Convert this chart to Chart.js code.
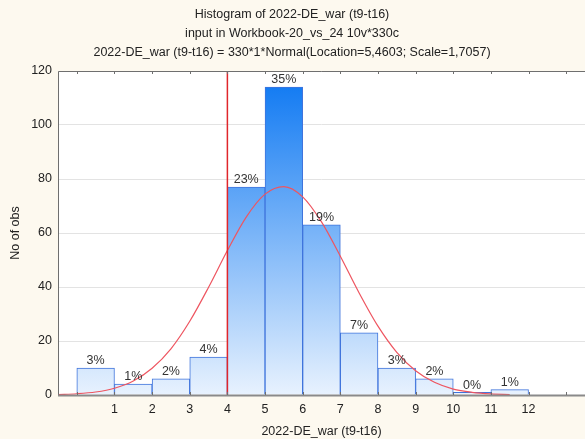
<!DOCTYPE html>
<html>
<head>
<meta charset="utf-8">
<script src="https://cdn.jsdelivr.net/npm/chart.js@4.4.1/dist/chart.umd.min.js"></script>
<style>
  html, body { margin: 0; padding: 0; background: #fdf9ef; }
  #wrap { width: 585px; height: 439px; }
</style>
</head>
<body>
<div id="wrap"><canvas id="hist" width="585" height="439"></canvas></div>
<script>
// bin centres (bins are [k, k+1])
var binCentres = [0.5, 1.5, 2.5, 3.5, 4.5, 5.5, 6.5, 7.5, 8.5, 9.5, 10.5, 11.5];
var counts = [10, 4, 6, 14, 77, 114, 63, 23, 10, 6, 1, 2];
var percents = ['3%', '1%', '2%', '4%', '23%', '35%', '19%', '7%', '3%', '2%', '0%', '1%'];

// fitted normal curve
var curveX = [-0.5, 0, 0.5, 1, 1.5, 2, 2.5, 3, 3.5, 4, 4.5, 5, 5.5, 6, 6.5, 7, 7.5, 8, 8.5, 9, 9.5, 10, 10.5, 11, 11.5];
var curveY = [0.17, 0.46, 1.1, 2.5, 5.2, 9.9, 17.1, 27.3, 39.9, 53.5, 65.9, 74.4, 77.2, 73.4, 64.1, 51.4, 37.8, 25.5, 15.8, 9.0, 4.7, 2.2, 1.0, 0.4, 0.15];

var markerX = [4, 4];
var markerY = [0, 120];

var xTicks = [0, 1, 2, 3, 4, 5, 6, 7, 8, 9, 10, 11, 12, 13];
var yTicks = [0, 20, 40, 60, 80, 100, 120];

var titleLines = [
  'Histogram of 2022-DE_war (t9-t16)',
  'input in Workbook-20_vs_24 10v*330c',
  '2022-DE_war (t9-t16) = 330*1*Normal(Location=5,4603; Scale=1,7057)'
];
var xTitle = '2022-DE_war (t9-t16)';
var yTitle = 'No of obs';

var FONT = '"Liberation Sans", Arial, sans-serif';

var barData = binCentres.map(function (x, i) { return { x: x, y: counts[i] }; });
var curveData = curveX.map(function (x, i) { return { x: x, y: curveY[i] }; });
var markerData = markerX.map(function (x, i) { return { x: x, y: markerY[i] }; });

var extras = {
  id: 'extras',
  beforeDraw: function (chart) {
    var c = chart.ctx, a = chart.chartArea;
    c.save();
    c.fillStyle = '#fdf9ef';
    c.fillRect(0, 0, chart.width, chart.height);
    c.fillStyle = '#ffffff';
    c.fillRect(a.left, a.top, a.right - a.left, a.bottom - a.top);
    c.restore();
  },
  afterDatasetsDraw: function (chart) {
    var c = chart.ctx, a = chart.chartArea;
    var xs = chart.scales.x, ys = chart.scales.y;
    c.save();
    // percent labels
    c.font = '12.5px ' + FONT;
    c.fillStyle = '#333333';
    c.textAlign = 'center';
    c.textBaseline = 'bottom';
    binCentres.forEach(function (x, i) {
      c.fillText(percents[i], xs.getPixelForValue(x), ys.getPixelForValue(counts[i]) - 1);
    });
    // frame
    c.strokeStyle = '#6f6f6f';
    c.lineWidth = 1;
    c.beginPath();
    c.moveTo(a.left + 0.5, a.bottom);
    c.lineTo(a.left + 0.5, a.top + 0.5);
    c.lineTo(a.right, a.top + 0.5);
    c.stroke();
    c.strokeStyle = '#8a8a8a';
    c.lineWidth = 2;
    c.beginPath();
    c.moveTo(a.left, a.bottom + 0.5);
    c.lineTo(a.right, a.bottom + 0.5);
    c.stroke();
    // small tick marks top and bottom
    c.lineWidth = 1;
    c.strokeStyle = '#6f6f6f';
    xTicks.forEach(function (v) {
      var px = Math.round(xs.getPixelForValue(v)) + 0.5;
      c.beginPath();
      c.moveTo(px, a.top);
      c.lineTo(px, a.top + 3);
      c.moveTo(px, a.bottom);
      c.lineTo(px, a.bottom - 3);
      c.stroke();
    });
    // titles
    c.fillStyle = '#222222';
    c.textBaseline = 'middle';
    c.font = '12.5px ' + FONT;
    titleLines.forEach(function (t, i) {
      c.fillText(t, 292, 15 + i * 19);
    });
    c.fillText(xTitle, (a.left + a.right) / 2, 432);
    c.translate(16, (a.top + a.bottom) / 2);
    c.rotate(-Math.PI / 2);
    c.fillText(yTitle, 0, 0);
    c.restore();
  }
};

const ctx = document.getElementById('hist').getContext('2d');
const hist = new Chart(ctx, {
  data: {
    datasets: [{
      type: 'line',
      data: markerData,
      borderColor: '#e0262b',
      borderWidth: 1.5,
      pointRadius: 0,
      order: 0
    }, {
      type: 'line',
      data: curveData,
      borderColor: '#ee5560',
      borderWidth: 1.2,
      pointRadius: 0,
      cubicInterpolationMode: 'monotone',
      order: 1
    }, {
      type: 'bar',
      data: barData,
      backgroundColor: function (context) {
        var chart = context.chart, a = chart.chartArea;
        if (!a) return '#9cc8f8';
        var g = chart.ctx.createLinearGradient(0, a.bottom, 0, a.top);
        g.addColorStop(0, '#e8f2fe');
        g.addColorStop(1, '#0a76f2');
        return g;
      },
      borderColor: '#3f74dc',
      borderWidth: 1,
      barPercentage: 1,
      categoryPercentage: 1,
      order: 2
    }]
  },
  options: {
    responsive: false,
    animation: false,
    layout: { padding: { top: 71, left: 0, right: 0, bottom: 0 } },
    plugins: { legend: { display: false }, tooltip: { enabled: false } },
    scales: {
      x: {
        type: 'linear',
        offset: false,
        min: -0.5,
        max: 13.5,
        afterBuildTicks: function (scale) {
          scale.ticks = xTicks.map(function (v) { return { value: v }; });
        },
        afterFit: function (scale) { scale.height = 44; },
        grid: { display: false, drawTicks: false, offset: false },
        border: { display: false },
        ticks: {
          padding: 7,
          maxRotation: 0,
          autoSkip: false,
          color: '#222222',
          font: { family: FONT, size: 12.5 },
          callback: function (v) { return (v >= 1 && v <= 12) ? String(v) : ''; }
        }
      },
      y: {
        min: 0,
        max: 120,
        afterBuildTicks: function (scale) {
          scale.ticks = yTicks.map(function (v) { return { value: v }; });
        },
        afterFit: function (scale) { scale.width = 58; },
        grid: { color: '#e3e3e3', drawTicks: false },
        border: { display: false },
        ticks: {
          padding: 6,
          color: '#222222',
          font: { family: FONT, size: 12.5 }
        }
      }
    }
  },
  plugins: [extras]
});
</script>
</body>
</html>
